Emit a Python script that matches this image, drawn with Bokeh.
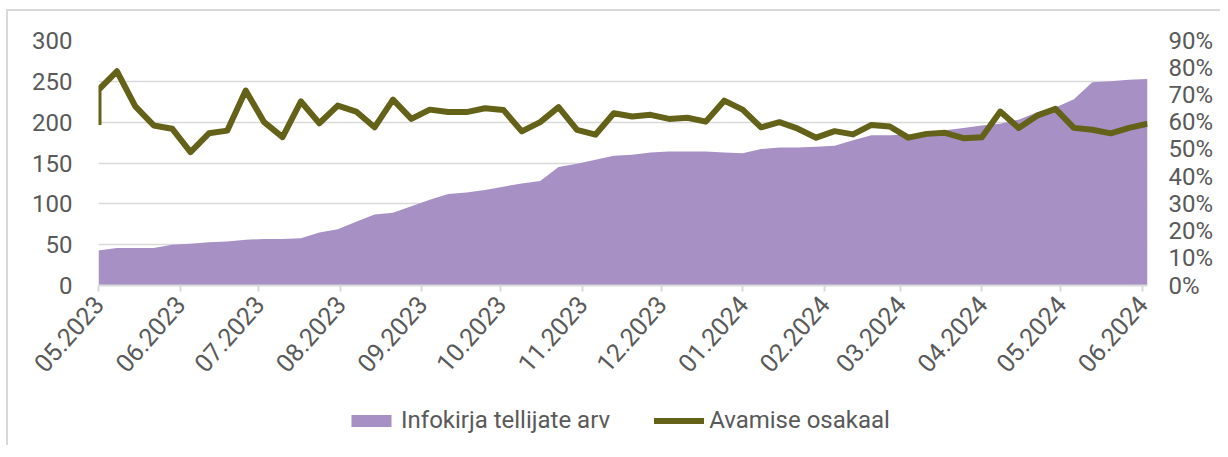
from datetime import datetime, timedelta

from bokeh.plotting import figure
from bokeh.layouts import column
from bokeh.models import (Range1d, LinearAxis, FixedTicker, PrintfTickFormatter,
                          Legend, LegendItem)
from bokeh.embed import file_html
from bokeh.resources import INLINE

# ---------------- data ----------------
month_labels = ["05.2023", "06.2023", "07.2023", "08.2023", "09.2023", "10.2023",
                "11.2023", "12.2023", "01.2024", "02.2024", "03.2024", "04.2024",
                "05.2024", "06.2024"]
month_dates = [datetime(2023, 5, 1), datetime(2023, 6, 1), datetime(2023, 7, 1),
               datetime(2023, 8, 1), datetime(2023, 9, 1), datetime(2023, 10, 1),
               datetime(2023, 11, 1), datetime(2023, 12, 1), datetime(2024, 1, 1),
               datetime(2024, 2, 1), datetime(2024, 3, 1), datetime(2024, 4, 1),
               datetime(2024, 5, 1), datetime(2024, 6, 1)]

# weekly observations (first week reported twice)
first_week = datetime(2023, 5, 1)
n_weeks = 58
week_dates = [first_week] + [first_week + timedelta(weeks=i) for i in range(n_weeks)]

subscribers = [43, 43, 46, 46, 46, 50, 51, 53, 54, 56, 57, 57, 58, 65, 69, 78, 87, 89, 97,
               105, 112, 114, 117, 121, 125, 128, 145, 149, 154, 159, 160, 163, 164,
               164, 164, 163, 162, 167, 169, 169, 170, 171, 178, 184, 184, 185, 187,
               190, 193, 196, 198, 203, 212, 218, 228, 249, 250, 252, 253]

open_rate = [59.0, 71.9, 78.7, 65.8, 58.8, 57.6, 49.0, 55.9, 56.9, 71.6, 60.0, 54.5, 67.6,
             59.6, 66.1, 63.9, 58.1, 68.3, 61.2, 64.6, 63.7, 63.7, 65.1, 64.5, 56.6,
             60.0, 65.5, 57.2, 55.4, 63.3, 62.1, 62.7, 61.2, 61.6, 60.2, 67.9, 64.6,
             58.1, 60.0, 57.6, 54.3, 56.7, 55.5, 59.0, 58.4, 54.3, 55.7, 56.1, 54.1,
             54.5, 63.9, 57.9, 62.4, 64.9, 57.9, 57.2, 55.9, 57.9, 59.4]

series_names = ["Infokirja tellijate arv", "Avamise osakaal"]

# ---------------- helpers ----------------
EPOCH = datetime(1970, 1, 1)


def ms(d):
    return (d - EPOCH).total_seconds() * 1000.0


x = [ms(d) for d in week_dates]
tick_ms = [ms(d) for d in month_dates]

FONT = "Roboto"
TXT = "#595959"
GRID = "#d9d9d9"
AREA = "#A690C4"
LINE = "#636218"

p = figure(frame_width=1049, frame_height=245, output_backend="svg", toolbar_location=None,
           x_axis_type="datetime",
           x_range=Range1d(x[0], x[-1]), y_range=Range1d(0, 300),
           min_border_left=90, min_border_right=73, min_border_top=29,
           min_border_bottom=110)
p.outline_line_color = None
p.background_fill_color = "white"
p.border_fill_color = "white"

p.extra_y_ranges = {"pct": Range1d(0, 90)}

area = p.varea(x=x, y1=0, y2=subscribers, fill_color=AREA)
line = p.line(x=x, y=open_rate, y_range_name="pct", line_color=LINE,
              line_width=6, line_join="round")

# grid
p.xgrid.visible = False
p.ygrid.grid_line_color = GRID
p.ygrid.grid_line_width = 1.5
p.ygrid.ticker = FixedTicker(ticks=[0, 50, 100, 150, 200, 250, 300])

# left axis
ya = p.yaxis[0]
ya.ticker = FixedTicker(ticks=[0, 50, 100, 150, 200, 250, 300])
ya.axis_line_color = None
ya.major_tick_line_color = None
ya.minor_tick_line_color = None
ya.major_label_text_font = FONT
ya.major_label_text_font_size = "24px"
ya.major_label_text_color = TXT
ya.major_label_standoff = 20

# right axis
ra = LinearAxis(y_range_name="pct", ticker=FixedTicker(ticks=list(range(0, 91, 10))),
                formatter=PrintfTickFormatter(format="%d%%"))
ra.axis_line_color = None
ra.major_tick_line_color = None
ra.minor_tick_line_color = None
ra.major_label_text_font = FONT
ra.major_label_text_font_size = "24px"
ra.major_label_text_color = TXT
ra.major_label_standoff = 15
p.add_layout(ra, "right")

# bottom axis
xa = p.xaxis[0]
xa.ticker = FixedTicker(ticks=tick_ms)
xa.major_label_overrides = {t: lab for t, lab in zip(tick_ms, month_labels)}
xa.major_label_orientation = 0.85
xa.axis_line_color = GRID
xa.axis_line_width = 2
xa.major_tick_line_color = GRID
xa.major_tick_line_width = 2
xa.major_tick_in = 0
xa.major_tick_out = 6
xa.minor_tick_line_color = None
xa.major_label_text_font = FONT
xa.major_label_text_font_size = "25px"
xa.major_label_text_color = TXT
xa.major_label_standoff = 8

# ---------------- legend strip ----------------
# (same series drawn again, outside this strip's visible ranges, only to feed the legend)
lg = figure(width=1212, height=50, output_backend="svg", toolbar_location=None,
            x_range=Range1d(0, 1), y_range=Range1d(-1000, -999),
            min_border_left=0, min_border_right=0, min_border_top=0, min_border_bottom=0)
lg.axis.visible = False
lg.grid.visible = False
lg.outline_line_color = None
lg.border_fill_color = "white"
lg.background_fill_color = "white"
lg_area = lg.varea(x=x, y1=0, y2=subscribers, fill_color=AREA)
lg_line = lg.line(x=x, y=open_rate, line_color=LINE, line_width=6, line_cap="round")

legend = Legend(items=[LegendItem(label=series_names[0], renderers=[lg_area]),
                       LegendItem(label=series_names[1], renderers=[lg_line])],
                orientation="horizontal", location=(248, 11),
                padding=0, margin=0, spacing=44, label_standoff=5,
                glyph_width=50, glyph_height=15,
                border_line_alpha=0, background_fill_alpha=0,
                label_text_font=FONT, label_text_font_size="24px",
                label_text_color=TXT)
lg.add_layout(legend)

layout = column(p, lg, spacing=0)
layout.styles = {"margin-left": "6px", "margin-top": "9px",
                 "border-left": "2px solid #d9d9d9", "border-top": "2px solid #d9d9d9"}

open("out.html", "w").write(file_html(layout, INLINE))
